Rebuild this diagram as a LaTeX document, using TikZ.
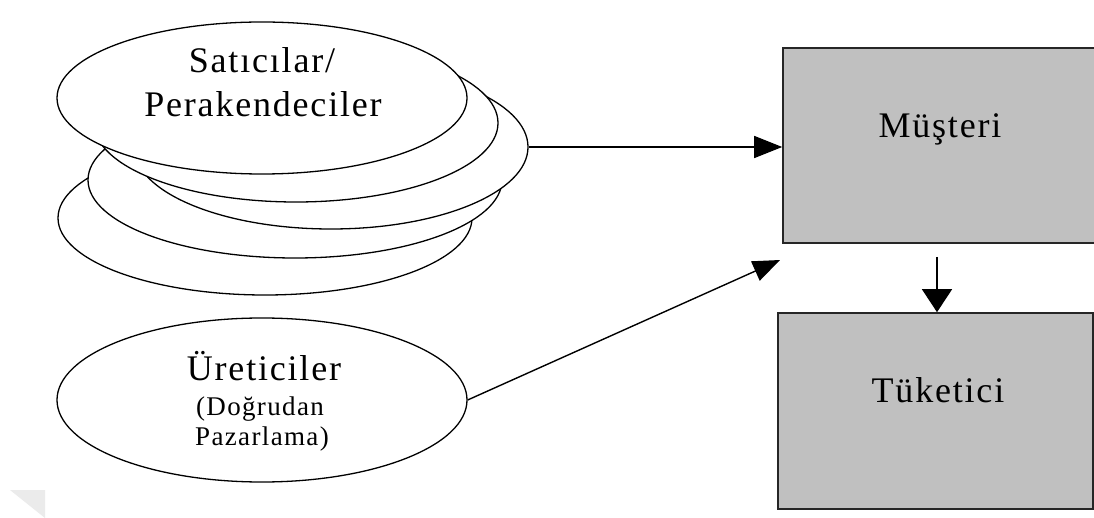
\documentclass[tikz,border=0pt]{standalone}
\usepackage{fontspec}
\setmainfont{Liberation Serif}
\newfontfamily\tnr[LetterSpace=5]{Liberation Serif}
\usetikzlibrary{shapes.geometric,arrows.meta}
\definecolor{boxgray}{HTML}{C0C0C0}
\definecolor{wmgray}{HTML}{EBEBEB}
\begin{document}
\begin{tikzpicture}[x=1pt,y=-1pt,
  ell/.style={ellipse, draw=black, line width=1.3pt, fill=white, inner sep=0pt},
  boxnode/.style={rectangle, draw=black!85, line width=1.6pt, fill=boxgray, inner sep=0pt},
  lbl/.style={anchor=base, font=\tnr\fontsize{36}{40}\selectfont, inner sep=0pt},
  slbl/.style={anchor=base, font=\tnr\fontsize{27}{30}\selectfont, inner sep=0pt},
  conn/.style={line width=1.4pt, draw=black}
]
\useasboundingbox (0,0) rectangle (1094,518);
\fill[white] (0,0) rectangle (1094,518);
\fill[wmgray] (10,490) -- (45,490) -- (45,518) -- cycle;

% stack of ellipses, back to front
\node[ell, minimum width=414pt, minimum height=154pt] (e5) at (265,218) {};
\node[ell, minimum width=414pt, minimum height=156pt] (e4) at (295,180) {};
\node[ell, minimum width=394pt, minimum height=164pt] (e3) at (331,147) {};
\node[ell, minimum width=404pt, minimum height=158pt] (e2) at (296,123) {};
\node[ell, minimum width=410pt, minimum height=152pt] (e1) at (262,98) {};
\node[lbl] (t1) at (262,73) {Satıcılar/};
\node[lbl] (t2) at (263,117) {Perakendeciler};

\node[ell, minimum width=410pt, minimum height=164pt] (u) at (262,400) {};
\node[lbl] (t3) at (264,380) {Üreticiler};
\node[slbl] (t4) at (260,415) {(Doğrudan};
\node[slbl] (t5) at (262,445) {Pazarlama)};

% boxes
\node[boxnode, minimum width=317pt, minimum height=195pt] (m) at (941.5,145.5) {};
\node[lbl] (t6) at (940,138) {Müşteri};
\node[boxnode, minimum width=315pt, minimum height=196pt] (t) at (935.5,411) {};
\node[lbl] (t7) at (938,402) {Tüketici};

% connectors
\draw[conn, -{Triangle[length=28pt,width=22pt]}] (e3.east) -- (e3.east -| m.west);
\coordinate (a2) at (780,260);
\draw[conn, -{Triangle[length=27pt,width=21pt]}] (u.east) -- (a2);
\coordinate (a3) at (937,257);
\draw[conn, -{Triangle[length=23pt,width=30pt]}] (a3) -- (a3 |- t.north);
\end{tikzpicture}
\end{document}
